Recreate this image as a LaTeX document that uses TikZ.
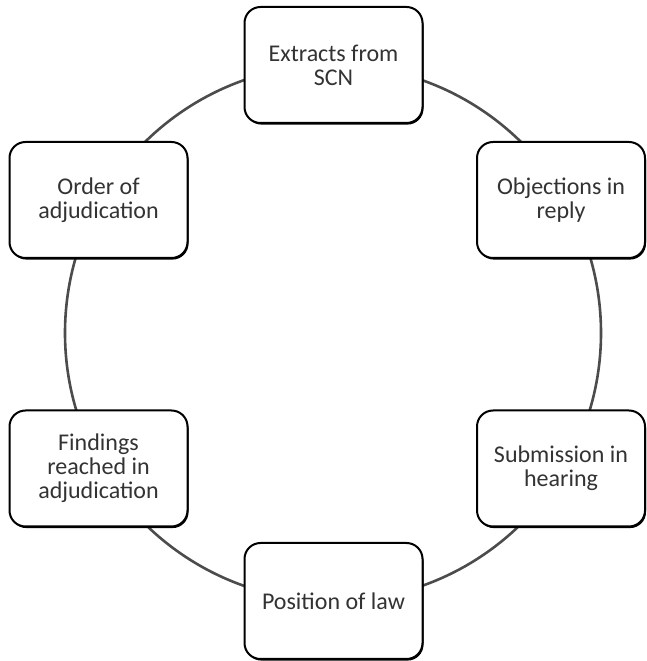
\documentclass[tikz,border=0pt]{standalone}
\usepackage{fontspec}
\setmainfont{Carlito}
\usepackage{tikz}
\usetikzlibrary{shapes.geometric, shadows}
\tikzstyle{stage} = [draw=black, line width=2pt, fill=white, rounded corners=16pt,
  minimum width=178pt, minimum height=116pt, align=center, text=black!80,
  font=\fontsize{24}{24}\selectfont,
  drop shadow={shadow xshift=1pt, shadow yshift=-1.6pt, fill=black, opacity=1}]
\tikzstyle{ring} = [draw=black!70, line width=2.6pt]

\begin{document}
\begin{tikzpicture}[x=1pt, y=1pt]
        \useasboundingbox (0,0) rectangle (646,661);
        \coordinate (c) at (333,328);
        \draw[ring] (c) circle (268pt);
        \node[stage] (scn) at (333.5,596) {Extracts from\\SCN};
        \node[stage, minimum width=168pt] (reply) at (561,461) {Objections in\\reply};
        \node[stage, minimum width=168pt] (hearing) at (561,192.5) {Submission in\\hearing};
        \node[stage] (law) at (333.5,60) {Position of law};
        \node[stage] (findings) at (98.5,192.5) {Findings\\reached in\\adjudication};
        \node[stage] (order) at (98.5,461) {Order of\\adjudication};
      \end{tikzpicture}
\end{document}
